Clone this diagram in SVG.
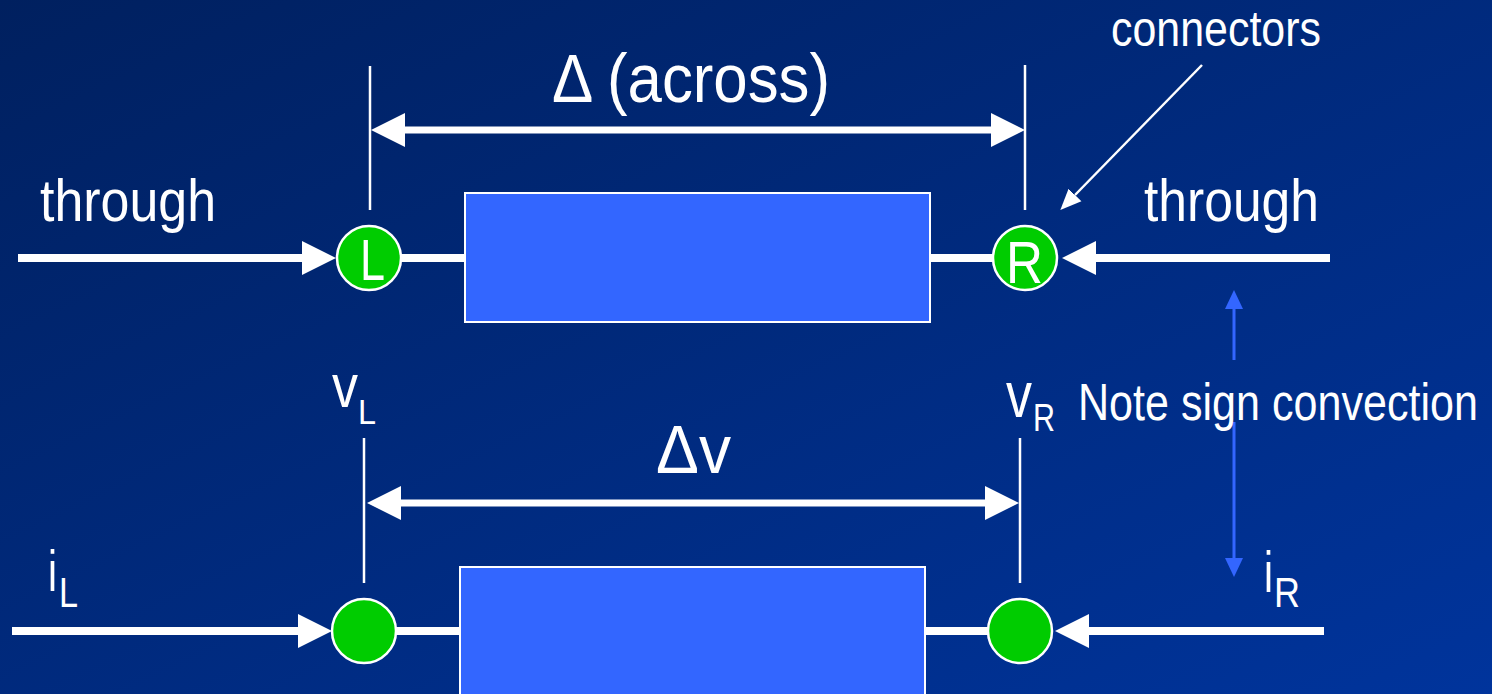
<svg xmlns="http://www.w3.org/2000/svg" width="1492" height="694" viewBox="0 0 1492 694">
<defs>
<linearGradient id="bg" x1="0" y1="0" x2="1" y2="1">
<stop offset="0" stop-color="#00205F"/>
<stop offset="1" stop-color="#00349C"/>
</linearGradient>
<marker id="big" markerUnits="userSpaceOnUse" markerWidth="35" markerHeight="36" refX="0" refY="18" orient="auto-start-reverse" viewBox="0 0 35 36">
<path d="M0,1 L34,18 L0,35 z" fill="#fff"/>
</marker>
<marker id="blue" markerUnits="userSpaceOnUse" markerWidth="20" markerHeight="20" refX="0" refY="10" orient="auto-start-reverse" viewBox="0 0 20 20">
<path d="M0,1 L19,10 L0,19 z" fill="#3366FF"/>
</marker>
<marker id="thin" markerUnits="userSpaceOnUse" markerWidth="22" markerHeight="20" refX="0" refY="10" orient="auto" viewBox="0 0 22 20">
<path d="M0,1 L21,10 L0,19 z" fill="#fff"/>
</marker>
</defs>
<style>
text{font-family:"Liberation Sans",Arial,sans-serif;fill:#fff}
.thick{stroke:#fff;stroke-width:8;fill:none}
.dim{stroke:#fff;stroke-width:7;fill:none}
.ext{stroke:#fff;stroke-width:2.5;fill:none}
.port{fill:#00CC00;stroke:#fff;stroke-width:2.5}
.box{fill:#3366FF;stroke:#fff;stroke-width:2}
</style>
<rect x="0" y="0" width="1492" height="694" fill="url(#bg)"/>

<g id="connectors">
<line class="thick" x1="18" y1="258" x2="302" y2="258" marker-end="url(#big)"/>
<line class="thick" x1="401" y1="258" x2="466" y2="258"/>
<line class="thick" x1="929" y1="258" x2="994" y2="258"/>
<line class="thick" x1="1330" y1="258" x2="1096" y2="258" marker-end="url(#big)"/>
<line class="ext" x1="370" y1="66" x2="370" y2="210"/>
<line class="ext" x1="1025" y1="65" x2="1025" y2="210"/>
<line class="dim" x1="405" y1="130" x2="991" y2="130" marker-start="url(#big)" marker-end="url(#big)"/>
<line class="ext" x1="1202" y1="65" x2="1075" y2="195" marker-end="url(#thin)"/>

<line class="thick" x1="12" y1="631" x2="298" y2="631" marker-end="url(#big)"/>
<line class="thick" x1="396" y1="631" x2="461" y2="631"/>
<line class="thick" x1="924" y1="631" x2="989" y2="631"/>
<line class="thick" x1="1324" y1="631" x2="1089" y2="631" marker-end="url(#big)"/>
<line class="ext" x1="364" y1="438" x2="364" y2="583"/>
<line class="ext" x1="1020" y1="438" x2="1020" y2="583"/>
<line class="dim" x1="401" y1="503" x2="985" y2="503" marker-start="url(#big)" marker-end="url(#big)"/>

<line stroke="#3366FF" stroke-width="3" x1="1234" y1="360" x2="1234" y2="309" marker-end="url(#blue)"/>
<line stroke="#3366FF" stroke-width="3" x1="1234" y1="422" x2="1234" y2="558" marker-end="url(#blue)"/>
</g>

<g id="box-top"><rect class="box" x="465" y="193" width="465" height="129"/></g>
<g id="box-bottom"><rect class="box" x="460" y="567" width="465" height="140"/></g>

<g id="port-L"><circle class="port" cx="369" cy="258" r="32"/><text x="360" y="280" font-size="57" textLength="25" lengthAdjust="spacingAndGlyphs">L</text></g>
<g id="port-R"><circle class="port" cx="1025" cy="258" r="32"/><text x="1006" y="283" font-size="60" textLength="37" lengthAdjust="spacingAndGlyphs">R</text></g>
<g id="port-bl"><circle class="port" cx="364" cy="631" r="32"/></g>
<g id="port-br"><circle class="port" cx="1020" cy="631" r="32"/></g>

<g id="labels">
<text x="40" y="221" font-size="60" textLength="176" lengthAdjust="spacingAndGlyphs">through</text>
<text x="1144" y="221" font-size="60" textLength="175" lengthAdjust="spacingAndGlyphs">through</text>
<text x="1111" y="46" font-size="50" textLength="210" lengthAdjust="spacingAndGlyphs">connectors</text>
<text x="552" y="102" font-size="68" textLength="278" lengthAdjust="spacingAndGlyphs">Δ (across)</text>
<text x="656" y="473" font-size="68" textLength="75" lengthAdjust="spacingAndGlyphs">Δv</text>
<text x="1078" y="420" font-size="52" textLength="400" lengthAdjust="spacingAndGlyphs">Note sign convection</text>
<text x="332" y="407" font-size="62" textLength="26" lengthAdjust="spacingAndGlyphs">v</text>
<text x="358" y="424" font-size="35" textLength="18" lengthAdjust="spacingAndGlyphs">L</text>
<text x="1006" y="417" font-size="65" textLength="26" lengthAdjust="spacingAndGlyphs">v</text>
<text x="1033" y="431" font-size="39" textLength="22" lengthAdjust="spacingAndGlyphs">R</text>
<text x="48" y="591" font-size="57" textLength="9" lengthAdjust="spacingAndGlyphs">i</text>
<text x="59" y="607" font-size="42" textLength="19" lengthAdjust="spacingAndGlyphs">L</text>
<text x="1264" y="592" font-size="57" textLength="9" lengthAdjust="spacingAndGlyphs">i</text>
<text x="1274" y="607" font-size="42" textLength="26" lengthAdjust="spacingAndGlyphs">R</text>
</g>
</svg>
